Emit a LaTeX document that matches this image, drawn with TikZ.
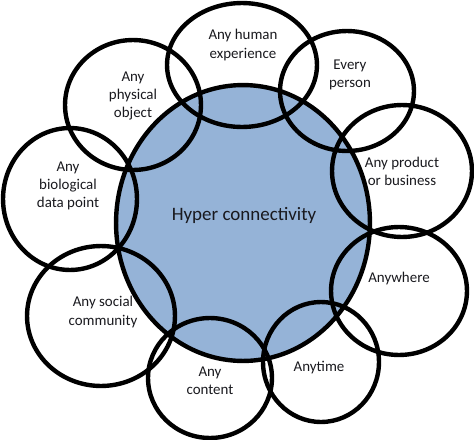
\documentclass[tikz,border=0pt]{standalone}
\usepackage{fontspec}
\setmainfont{Carlito}
\usetikzlibrary{shapes.geometric}
\definecolor{hyperblue}{RGB}{149,179,215}
\definecolor{inkgray}{RGB}{25,25,30}

\begin{document}
\begin{tikzpicture}[x=0.02cm, y=-0.02cm,
    ring/.style 2 args={draw, ellipse, line width=2.5pt, inner sep=0pt,
        minimum width=#1*0.04cm, minimum height=#2*0.04cm},
    lbl/.style={align=center, text=inkgray, font=\fontsize{8.5}{10.3}\selectfont}]
    \useasboundingbox (0,0) rectangle (474,440);
    % centre
    \node[ring={127}{138}, fill=hyperblue] (hub) at (243,223) {};
    \node[text=inkgray, font=\fontsize{10.8}{13}\selectfont] (hubT) at (244,215) {Hyper connectivity};

    % outer rings
    \node[ring={75}{62}] (human) at (242,65) {};
    \node[ring={67}{60}] (person) at (347,91) {};
    \node[ring={70}{66}] (product) at (402,171) {};
    \node[ring={68}{64}] (anywhere) at (399,291) {};
    \node[ring={58}{60}] (anytime) at (321,362) {};
    \node[ring={62}{60}] (content) at (210,378) {};
    \node[ring={74}{70}] (social) at (101,316) {};
    \node[ring={67}{71}] (biological) at (70,199) {};
    \node[ring={68}{65}] (physical) at (133,105) {};

    % labels
    \node[lbl] (humanT) at (243,45) {Any human\\experience};
    \node[lbl] (personT) at (350,75) {Every\\person};
    \node[lbl] (productT) at (402,171) {Any product\\or business};
    \node[lbl] (anywhereT) at (399,279) {Anywhere};
    \node[lbl] (anytimeT) at (319,368) {Anytime};
    \node[lbl] (contentT) at (210,381) {Any\\content};
    \node[lbl] (socialT) at (103,312) {Any social\\community};
    \node[lbl] (biologicalT) at (68,186) {Any\\biological\\data point};
    \node[lbl] (physicalT) at (133,96) {Any\\physical\\object};
\end{tikzpicture}
\end{document}
